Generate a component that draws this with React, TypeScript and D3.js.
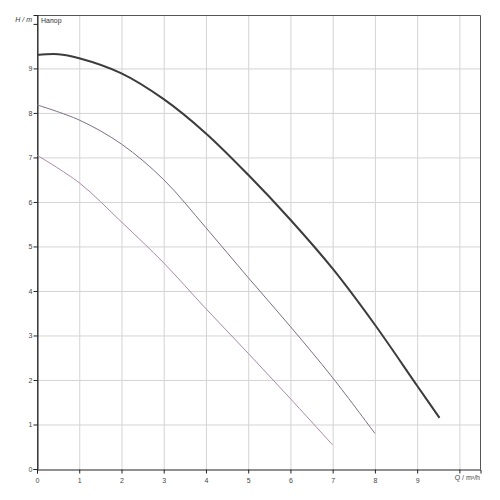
import React, { useRef, useEffect } from "react";
import * as d3 from "d3";

// Q in m³/h, H in m
const q1 = [0, 0.5, 1, 2, 3, 4, 5, 6, 7, 8, 9, 9.53];
const h1 = [9.3, 9.32, 9.23, 8.89, 8.31, 7.54, 6.61, 5.6, 4.5, 3.24, 1.87, 1.15];

const q2 = [0, 1, 2, 3, 4, 5, 6, 7, 8];
const h2 = [8.18, 7.84, 7.3, 6.5, 5.42, 4.3, 3.2, 2.05, 0.8];

const q3 = [0, 1, 2, 3, 4, 5, 6, 7];
const h3 = [7.05, 6.43, 5.55, 4.63, 3.6, 2.6, 1.58, 0.54];

const xTicks = [0, 1, 2, 3, 4, 5, 6, 7, 8, 9];
const yTicks = [0, 1, 2, 3, 4, 5, 6, 7, 8, 9];

export default function App() {
    const ref = useRef<SVGSVGElement | null>(null);

    useEffect(() => {
        const width = 500;
        const height = 500;
        const left = 37, right = 480.5, top = 15, bottom = 469;

        const svg = d3.select(ref.current);
        svg.selectAll("*").remove();
        svg.attr("width", width).attr("height", height);

        const x = d3.scaleLinear().domain([0, 10.5]).range([left, right]);
        const y = d3.scaleLinear().domain([0, 10.2]).range([bottom, top]);

        svg.append("rect").attr("width", width).attr("height", height).attr("fill", "#fff");

        // grid
        const grid = svg.append("g").attr("stroke", "#d4d4d4").attr("stroke-width", 1);
        grid.selectAll("line.v")
            .data(d3.range(1, 11))
            .enter()
            .append("line")
            .attr("x1", (d) => x(d) + 0.5)
            .attr("x2", (d) => x(d) + 0.5)
            .attr("y1", top)
            .attr("y2", bottom);
        grid.selectAll("line.h")
            .data(d3.range(1, 10))
            .enter()
            .append("line")
            .attr("y1", (d) => y(d) + 0.5)
            .attr("y2", (d) => y(d) + 0.5)
            .attr("x1", left)
            .attr("x2", right);

        // frame
        svg.append("path")
            .attr("d", `M${left + 0.5},${bottom + 0.5}V${top + 0.5}H${right}V${bottom + 0.5}`)
            .attr("fill", "none")
            .attr("stroke", "#555")
            .attr("stroke-width", 1);

        const font = "Liberation Sans, Arial, sans-serif";

        // axes
        const xAxis = svg.append("g").attr("transform", `translate(0,${bottom + 0.5})`);
        xAxis.call(
            d3.axisBottom(x)
                .tickValues(d3.range(0, 10.41, 0.2))
                .tickSize(2)
                .tickFormat(() => "")
        );
        xAxis.call(
            d3.axisBottom(x)
                .tickValues(d3.range(0, 11))
                .tickSize(4)
                .tickFormat((d) => (xTicks.includes(+d) ? String(d) : ""))
        );
        xAxis.selectAll(".domain").attr("stroke", "#222");
        xAxis.selectAll("line").attr("stroke", "#222");
        xAxis.selectAll("text")
            .attr("font-size", 7)
            .attr("font-family", font)
            .attr("fill", "#444")
            .attr("dy", "0.95em");

        const yAxis = svg.append("g").attr("transform", `translate(${left + 0.5},0)`);
        yAxis.call(
            d3.axisLeft(y)
                .tickValues(d3.range(0, 10.21, 0.2))
                .tickSize(2)
                .tickFormat(() => "")
        );
        yAxis.call(
            d3.axisLeft(y)
                .tickValues(d3.range(0, 11))
                .tickSize(4)
                .tickFormat((d) => (yTicks.includes(+d) ? String(d) : ""))
        );
        yAxis.selectAll(".domain").attr("stroke", "#222");
        yAxis.selectAll("line").attr("stroke", "#222");
        yAxis.selectAll("text")
            .attr("font-size", 7)
            .attr("font-family", font)
            .attr("fill", "#444")
            .attr("x", -5);

        // axis titles
        svg.append("text")
            .attr("x", 32)
            .attr("y", 22)
            .attr("text-anchor", "end")
            .attr("font-size", 7)
            .attr("font-style", "italic")
            .attr("font-family", font)
            .attr("fill", "#333")
            .text("H / m");
        svg.append("text")
            .attr("x", 41)
            .attr("y", 23)
            .attr("font-size", 7)
            .attr("font-family", font)
            .attr("fill", "#333")
            .text("Напор");
        svg.append("text")
            .attr("x", 480)
            .attr("y", 480)
            .attr("text-anchor", "end")
            .attr("font-size", 7)
            .attr("font-family", font)
            .attr("fill", "#444")
            .text("Q / m³/h");

        // curves
        const line = d3.line<[number, number]>()
            .x((d) => x(d[0]))
            .y((d) => y(d[1]))
            .curve(d3.curveCatmullRom.alpha(0.5));

        const series = [
            { q: q3, h: h3, color: "#a88aa6", w: 1 },
            { q: q2, h: h2, color: "#7d6e86", w: 1 },
            { q: q1, h: h1, color: "#3c3c3c", w: 2 },
        ];
        series.forEach((s) => {
            svg.append("path")
                .datum(s.q.map((v, i) => [v, s.h[i]] as [number, number]))
                .attr("d", line)
                .attr("fill", "none")
                .attr("stroke", s.color)
                .attr("stroke-width", s.w);
        });
    }, []);

    return <svg ref={ref} style={{ position: "absolute", left: 0, top: 0 }}></svg>;
}
